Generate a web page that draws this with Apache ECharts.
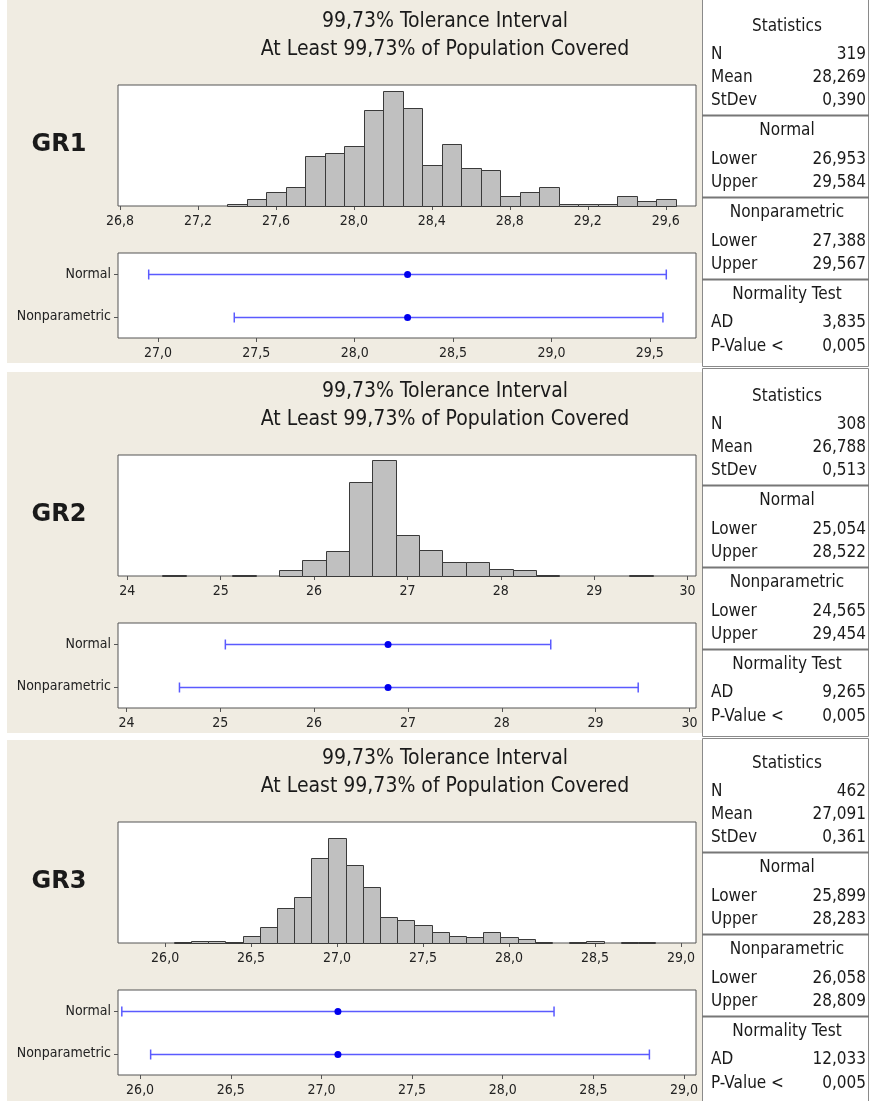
<!DOCTYPE html>
<html>
<head>
<meta charset="utf-8">
<script src="https://cdn.jsdelivr.net/npm/echarts@6/dist/echarts.min.js"></script>
<style>
html, body { margin: 0; padding: 0; background: #fff; }
#chart { width: 871px; height: 1101px; }
</style>
</head>
<body>
<div id="chart"></div>
<script>
// ---- data ----
var gr1Bins = [27.4, 27.5, 27.6, 27.7, 27.8, 27.9, 28.0, 28.1, 28.2, 28.3, 28.4, 28.5,
               28.6, 28.7, 28.8, 28.9, 29.0, 29.1, 29.2, 29.3, 29.4, 29.5, 29.6];
var gr1Counts = [1, 3, 6, 8, 21, 22, 25, 40, 48, 41, 17, 26, 16, 15, 4, 6, 8, 1, 1, 1, 4, 2, 3];
var gr1HistTicks = [26.8, 27.2, 27.6, 28.0, 28.4, 28.8, 29.2, 29.6];
var gr1IntTicks = [27.0, 27.5, 28.0, 28.5, 29.0, 29.5];
var gr1Summary = [319, 28.269, 0.390];   // N, Mean, StDev
var gr1Normal = [26.953, 29.584];        // Lower, Upper
var gr1Nonpar = [27.388, 29.567];
var gr1Test = [3.835, 0.005];            // AD, P-Value <

var gr2Bins = [24.5, 24.75, 25.0, 25.25, 25.5, 25.75, 26.0, 26.25, 26.5, 26.75, 27.0,
               27.25, 27.5, 27.75, 28.0, 28.25, 28.5, 28.75, 29.0, 29.25, 29.5];
var gr2Counts = [1, 0, 0, 1, 0, 5, 13, 21, 78, 96, 34, 22, 12, 12, 6, 5, 1, 0, 0, 0, 1];
var gr2HistTicks = [24, 25, 26, 27, 28, 29, 30];
var gr2IntTicks = [24, 25, 26, 27, 28, 29, 30];
var gr2Summary = [308, 26.788, 0.513];
var gr2Normal = [25.054, 28.522];
var gr2Nonpar = [24.565, 29.454];
var gr2Test = [9.265, 0.005];

var gr3Bins = [26.1, 26.2, 26.3, 26.4, 26.5, 26.6, 26.7, 26.8, 26.9, 27.0, 27.1, 27.2, 27.3, 27.4,
               27.5, 27.6, 27.7, 27.8, 27.9, 28.0, 28.1, 28.2, 28.3, 28.4, 28.5, 28.6, 28.7, 28.8];
var gr3Counts = [1, 2, 2, 1, 6, 13, 29, 38, 71, 88, 65, 47, 22, 19,
                 15, 9, 6, 5, 9, 5, 3, 1, 0, 1, 2, 0, 1, 1];
var gr3HistTicks = [26.0, 26.5, 27.0, 27.5, 28.0, 28.5, 29.0];
var gr3IntTicks = [26.0, 26.5, 27.0, 27.5, 28.0, 28.5, 29.0];
var gr3Summary = [462, 27.091, 0.361];
var gr3Normal = [25.899, 28.283];
var gr3Nonpar = [26.058, 28.809];
var gr3Test = [12.033, 0.005];

var intervalNames = ['Normal', 'Nonparametric'];
var titleLines = ['99,73% Tolerance Interval', 'At Least 99,73% of Population Covered'];

// ---- layout ----
var FONT = '"DejaVu Sans Condensed", "DejaVu Sans", sans-serif';
var BEIGE = '#f0ece2';

function fmt(v, d) { return v.toFixed(d).replace('.', ','); }

var panels = [
  { name: 'GR1', off: 0, bg: [0, 363], box: [-2, 366],
    bins: gr1Bins, counts: gr1Counts, bw: 0.1, yMax: 50.5,
    hMin: 26.79, hMax: 29.755, hTicks: gr1HistTicks, hDec: 1,
    iMin: 26.797, iMax: 29.735, iTicks: gr1IntTicks, iDec: 1,
    summary: gr1Summary, normal: gr1Normal, nonpar: gr1Nonpar, test: gr1Test },
  { name: 'GR2', off: 370, bg: [372, 733], box: [368, 736],
    bins: gr2Bins, counts: gr2Counts, bw: 0.25, yMax: 100.5,
    hMin: 23.9, hMax: 30.09, hTicks: gr2HistTicks, hDec: 0,
    iMin: 23.91, iMax: 30.07, iTicks: gr2IntTicks, iDec: 0,
    summary: gr2Summary, normal: gr2Normal, nonpar: gr2Nonpar, test: gr2Test },
  { name: 'GR3', off: 737, bg: [740, 1101], box: [738, 1103],
    bins: gr3Bins, counts: gr3Counts, bw: 0.1, yMax: 101,
    hMin: 25.726, hMax: 29.087, hTicks: gr3HistTicks, hDec: 1,
    iMin: 25.878, iMax: 29.066, iTicks: gr3IntTicks, iDec: 1,
    summary: gr3Summary, normal: gr3Normal, nonpar: gr3Nonpar, test: gr3Test }
];

var grids = [], xAxes = [], yAxes = [], series = [], graphics = [];

function txt(x, y, s, align, font) {
  return { type: 'text', x: x, y: y, z: 10,
    style: { text: s, font: font, fill: '#1a1a1a',
             align: align, textAlign: align, verticalAlign: 'middle', textVerticalAlign: 'middle' } };
}

panels.forEach(function (p, i) {
  var o = p.off;
  var hg = i * 2, ig = i * 2 + 1;

  // beige panel + stats box
  graphics.push({ type: 'rect', z: -10, silent: true,
    shape: { x: 7, y: p.bg[0], width: 695, height: p.bg[1] - p.bg[0] }, style: { fill: BEIGE } });
  graphics.push({ type: 'rect', z: -10, silent: true,
    shape: { x: 702.5, y: p.box[0] + 0.5, width: 166, height: p.box[1] - p.box[0] },
    style: { fill: '#fff', stroke: '#8a8a8a', lineWidth: 1 } });
  [115, 197, 279].forEach(function (yy) {
    graphics.push({ type: 'line', z: -5, silent: true,
      shape: { x1: 702, y1: o + yy + 0.5, x2: 869, y2: o + yy + 0.5 },
      style: { stroke: '#777', lineWidth: 2 } });
  });

  // titles and group label
  graphics.push(txt(445, o + 22, titleLines[0], 'center', '21px ' + FONT));
  graphics.push(txt(445, o + 50, titleLines[1], 'center', '21px ' + FONT));
  graphics.push(txt(59, o + 145, p.name, 'center', 'bold 24px "DejaVu Sans", sans-serif'));

  // stats table
  var SF = '17px ' + FONT;
  var L = 711, R = 866, C = 787;
  graphics.push(txt(C, o + 27, 'Statistics', 'center', SF));
  graphics.push(txt(L, o + 55, 'N', 'left', SF));
  graphics.push(txt(R, o + 55, String(p.summary[0]), 'right', SF));
  graphics.push(txt(L, o + 78, 'Mean', 'left', SF));
  graphics.push(txt(R, o + 78, fmt(p.summary[1], 3), 'right', SF));
  graphics.push(txt(L, o + 101, 'StDev', 'left', SF));
  graphics.push(txt(R, o + 101, fmt(p.summary[2], 3), 'right', SF));
  graphics.push(txt(C, o + 131, 'Normal', 'center', SF));
  graphics.push(txt(L, o + 160, 'Lower', 'left', SF));
  graphics.push(txt(R, o + 160, fmt(p.normal[0], 3), 'right', SF));
  graphics.push(txt(L, o + 183, 'Upper', 'left', SF));
  graphics.push(txt(R, o + 183, fmt(p.normal[1], 3), 'right', SF));
  graphics.push(txt(C, o + 213, 'Nonparametric', 'center', SF));
  graphics.push(txt(L, o + 242, 'Lower', 'left', SF));
  graphics.push(txt(R, o + 242, fmt(p.nonpar[0], 3), 'right', SF));
  graphics.push(txt(L, o + 265, 'Upper', 'left', SF));
  graphics.push(txt(R, o + 265, fmt(p.nonpar[1], 3), 'right', SF));
  graphics.push(txt(C, o + 295, 'Normality Test', 'center', SF));
  graphics.push(txt(L, o + 323, 'AD', 'left', SF));
  graphics.push(txt(R, o + 323, fmt(p.test[0], 3), 'right', SF));
  graphics.push(txt(L, o + 347, 'P-Value <', 'left', SF));
  graphics.push(txt(R, o + 347, fmt(p.test[1], 3), 'right', SF));

  // grids
  var gridBase = { left: 118, width: 578, show: true, backgroundColor: '#fff',
                   borderColor: '#555', borderWidth: 1, containLabel: false, outerBoundsMode: 'none' };
  grids.push(Object.assign({}, gridBase, { top: o + 85, height: 121 }));
  grids.push(Object.assign({}, gridBase, { top: o + 253, height: 85 }));

  var labelStyle = { fontFamily: FONT, fontSize: 14, color: '#222' };

  xAxes.push({ type: 'value', gridIndex: hg, min: p.hMin, max: p.hMax,
    axisLine: { show: false }, splitLine: { show: false },
    axisTick: { show: true, length: 4, customValues: p.hTicks, lineStyle: { color: '#555' } },
    axisLabel: Object.assign({ customValues: p.hTicks, margin: 8,
      formatter: (function (d) { return function (v) { return fmt(v, d); }; })(p.hDec) }, labelStyle) });
  xAxes.push({ type: 'value', gridIndex: ig, min: p.iMin, max: p.iMax,
    axisLine: { show: false }, splitLine: { show: false },
    axisTick: { show: true, length: 4, customValues: p.iTicks, lineStyle: { color: '#555' } },
    axisLabel: Object.assign({ customValues: p.iTicks, margin: 8,
      formatter: (function (d) { return function (v) { return fmt(v, d); }; })(p.iDec) }, labelStyle) });

  yAxes.push({ type: 'value', gridIndex: hg, min: 0, max: p.yMax, show: false });
  yAxes.push({ type: 'category', gridIndex: ig, data: intervalNames, inverse: true,
    axisLine: { show: false }, splitLine: { show: false },
    axisTick: { show: true, length: 4, alignWithLabel: true, lineStyle: { color: '#555' } },
    axisLabel: Object.assign({ margin: 7 }, labelStyle) });

  // histogram bars
  var hData = [];
  p.bins.forEach(function (c, k) {
    if (p.counts[k] > 0) hData.push([c - p.bw / 2, c + p.bw / 2, p.counts[k]]);
  });
  series.push({ type: 'custom', xAxisIndex: hg, yAxisIndex: hg, data: hData,
    encode: { x: [0, 1], y: 2 },
    renderItem: function (params, api) {
      var a = api.coord([api.value(0), 0]);
      var b = api.coord([api.value(1), api.value(2)]);
      var x0 = Math.round(a[0]) + 0.5, x1 = Math.round(b[0]) + 0.5;
      var y0 = Math.round(a[1]) + 0.5, y1 = Math.round(b[1]) + 0.5;
      return { type: 'rect', shape: { x: x0, y: y1, width: x1 - x0, height: y0 - y1 },
               style: { fill: '#c0c0c0', stroke: '#3a3a3a', lineWidth: 1 } };
    } });

  // tolerance intervals
  var iData = [
    [p.normal[0], p.normal[1], p.summary[1], 0],
    [p.nonpar[0], p.nonpar[1], p.summary[1], 1]
  ];
  series.push({ type: 'custom', xAxisIndex: ig, yAxisIndex: ig, data: iData,
    encode: { x: [0, 1, 2], y: 3 },
    renderItem: function (params, api) {
      var lo = api.coord([api.value(0), api.value(3)]);
      var hi = api.coord([api.value(1), api.value(3)]);
      var mid = api.coord([api.value(2), api.value(3)]);
      var y = Math.round(lo[1]) + 0.5;
      var st = { stroke: '#5a5aff', lineWidth: 1.5 };
      return { type: 'group', children: [
        { type: 'line', shape: { x1: lo[0], y1: y, x2: hi[0], y2: y }, style: st },
        { type: 'line', shape: { x1: lo[0], y1: y - 5, x2: lo[0], y2: y + 5 }, style: st },
        { type: 'line', shape: { x1: hi[0], y1: y - 5, x2: hi[0], y2: y + 5 }, style: st },
        { type: 'circle', shape: { cx: mid[0], cy: y, r: 3.5 }, style: { fill: '#0000ee' } }
      ] };
    } });
});

var chart = echarts.init(document.getElementById('chart'));
chart.setOption({
  backgroundColor: '#fff',
  animation: false,
  graphic: { elements: graphics },
  grid: grids,
  xAxis: xAxes,
  yAxis: yAxes,
  series: series
});
</script>
</body>
</html>
